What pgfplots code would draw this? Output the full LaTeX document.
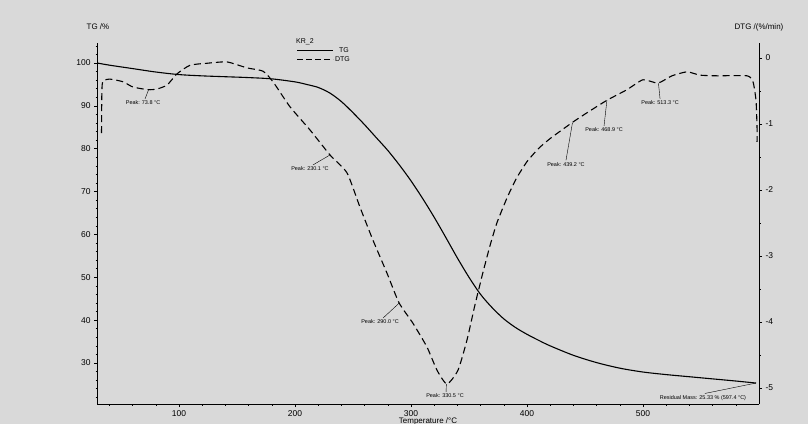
\documentclass[border=0pt]{standalone}
\usepackage{fontspec}
\setmainfont{Liberation Sans}
\usepackage{pgfplots}
\pgfplotsset{compat=1.18}
\definecolor{bg}{HTML}{D9D9D9}
\pgfplotsset{
 base/.style={
  at={(97bp,20bp)}, anchor=south west,
  scale only axis, width=662bp, height=361bp,
  xmin=29.3, xmax=600,
  axis line style={line width=0.9pt, black},
  tick style={black, line width=0.5pt},
  tick align=outside,
  major tick length=3bp, minor tick length=1.5bp,
  ticklabel style={font=\fontsize{8.5}{10}\selectfont},
  /pgf/number format/assume math mode=true,
  clip=false,
 }
}
\tikzset{ann/.style={font=\fontsize{5.5}{6}\selectfont, inner sep=0pt},
         lead/.style={line width=0.4pt, black}}
\begin{document}
\begin{tikzpicture}
\fill[bg] (0,0) rectangle (808bp,424bp);
\useasboundingbox (0,0) rectangle (808bp,424bp);

% TG axis (left)
\begin{axis}[base,
  axis x line*=bottom, axis y line*=left,
  ymin=20.44, ymax=104.67,
  xtick={100,200,300,400,500},
  minor xtick={40,60,...,580},
  ytick={30,40,...,100},
  minor ytick={22,24,...,104},
]
\addplot[black, line width=1.1pt, smooth, tension=0.5] coordinates {
(29.5,100.0) (40,99.5) (60,98.7) (80,97.9) (100,97.3) (120,97.0) (140,96.8)
(160,96.6) (180,96.3) (200,95.6) (210,95.0) (220,94.3) (230,93.0) (240,91.0)
(250,88.4) (260,85.6) (270,82.6) (280,79.6) (290,76.2) (300,72.5) (310,68.4)
(320,64.0) (330,59.3) (340,54.5) (350,50.0) (360,46.0) (370,42.9) (380,40.3)
(390,38.3) (400,36.7) (410,35.3) (420,34.0) (440,31.8) (460,30.1) (480,28.8)
(500,27.9) (520,27.3) (540,26.8) (560,26.3) (580,25.8) (597.4,25.33)
};
\draw[lead] (axis cs:597.4,25.33) -- (axis cs:553.4,22.9);
\node[ann] at (axis cs:551.7,21.9) {Residual Mass: 25.33 \% (597.4 °C)};
\end{axis}

% DTG axis (right)
\begin{axis}[base,
  axis y line*=right, axis x line=none,
  ymin=-5.242, ymax=0.227,
  ytick={-5,-4,-3,-2,-1,0},
  yticklabels={-5,-4,-3,-2,-1,0},
  minor ytick={-5,-4.5,...,0},
]
\addplot[black, line width=1.1pt, dash pattern=on 7bp off 4bp, smooth, tension=0.35] coordinates {
(33.2,-1.14) (33.5,-0.50) (34.5,-0.35) (40.5,-0.32) (51.7,-0.36) (60.3,-0.44)
(73.3,-0.48) (81.0,-0.47) (89.7,-0.41) (98.3,-0.24) (109.5,-0.11)
(124.1,-0.08) (141.4,-0.06) (158.6,-0.15) (172.4,-0.20) (181.0,-0.36)
(195.7,-0.74) (212.9,-1.09) (230.2,-1.47) (244.8,-1.74) (256.0,-2.26)
(267.2,-2.76) (279.3,-3.26) (289.7,-3.71) (301.7,-4.02) (313.8,-4.38)
(322.4,-4.73) (331.0,-4.94) (340.5,-4.73) (348.3,-4.27) (355,-3.75)
(362,-3.25) (368,-2.85) (374,-2.50) (383,-2.11) (391,-1.82)
(400,-1.57) (410,-1.37) (420,-1.22) (438.8,-0.98) (451.7,-0.83)
(469.0,-0.64) (486.2,-0.48) (500.0,-0.33) (512.9,-0.38) (525,-0.27)
(537.9,-0.21) (549.1,-0.26) (563.8,-0.27) (589.7,-0.27) (594.8,-0.36)
(597.4,-0.64) (598.3,-1.05) (598.3,-1.27)
};
% peak annotations
\draw[lead] (axis cs:73.8,-0.48) -- (axis cs:70.7,-0.62);
\node[ann] at (axis cs:69,-0.68) {Peak: 73.8 °C};
\draw[lead] (axis cs:230.1,-1.47) -- (axis cs:215.5,-1.62);
\node[ann] at (axis cs:212.9,-1.68) {Peak: 230.1 °C};
\draw[lead] (axis cs:290.0,-3.71) -- (axis cs:275.9,-3.94);
\node[ann] at (axis cs:273.3,-4.0) {Peak: 290.0 °C};
\draw[lead] (axis cs:330.5,-4.94) -- (axis cs:330.2,-5.06);
\node[ann] at (axis cs:329.3,-5.12) {Peak: 330.5 °C};
\draw[lead] (axis cs:439.2,-0.98) -- (axis cs:433.6,-1.55);
\node[ann] at (axis cs:433.6,-1.61) {Peak: 439.2 °C};
\draw[lead] (axis cs:468.9,-0.64) -- (axis cs:466.4,-1.03);
\node[ann] at (axis cs:466.4,-1.09) {Peak: 468.9 °C};
\draw[lead] (axis cs:513.3,-0.38) -- (axis cs:514.7,-0.62);
\node[ann] at (axis cs:514.7,-0.68) {Peak: 513.3 °C};
\end{axis}

% axis titles
\node[font=\fontsize{8}{9}\selectfont] at (98bp,397bp) {TG /\%};
\node[font=\fontsize{8}{9}\selectfont] at (759bp,397bp) {DTG /(\%/min)};
\node[font=\fontsize{8}{9}\selectfont] at (428bp,3bp) {Temperature /°C};

% legend
\node[font=\fontsize{7}{8}\selectfont, anchor=west, inner sep=0pt] at (296bp,382bp) {KR\_2};
\draw[black, line width=0.7pt] (297bp,374bp) -- (333bp,374bp);
\node[font=\fontsize{7}{8}\selectfont, anchor=east, inner sep=0pt] at (349bp,374bp) {TG};
\draw[black, line width=0.7pt, dash pattern=on 6bp off 3bp] (297bp,365bp) -- (333bp,365bp);
\node[font=\fontsize{7}{8}\selectfont, anchor=east, inner sep=0pt] at (350bp,365bp) {DTG};
\end{tikzpicture}
\end{document}
